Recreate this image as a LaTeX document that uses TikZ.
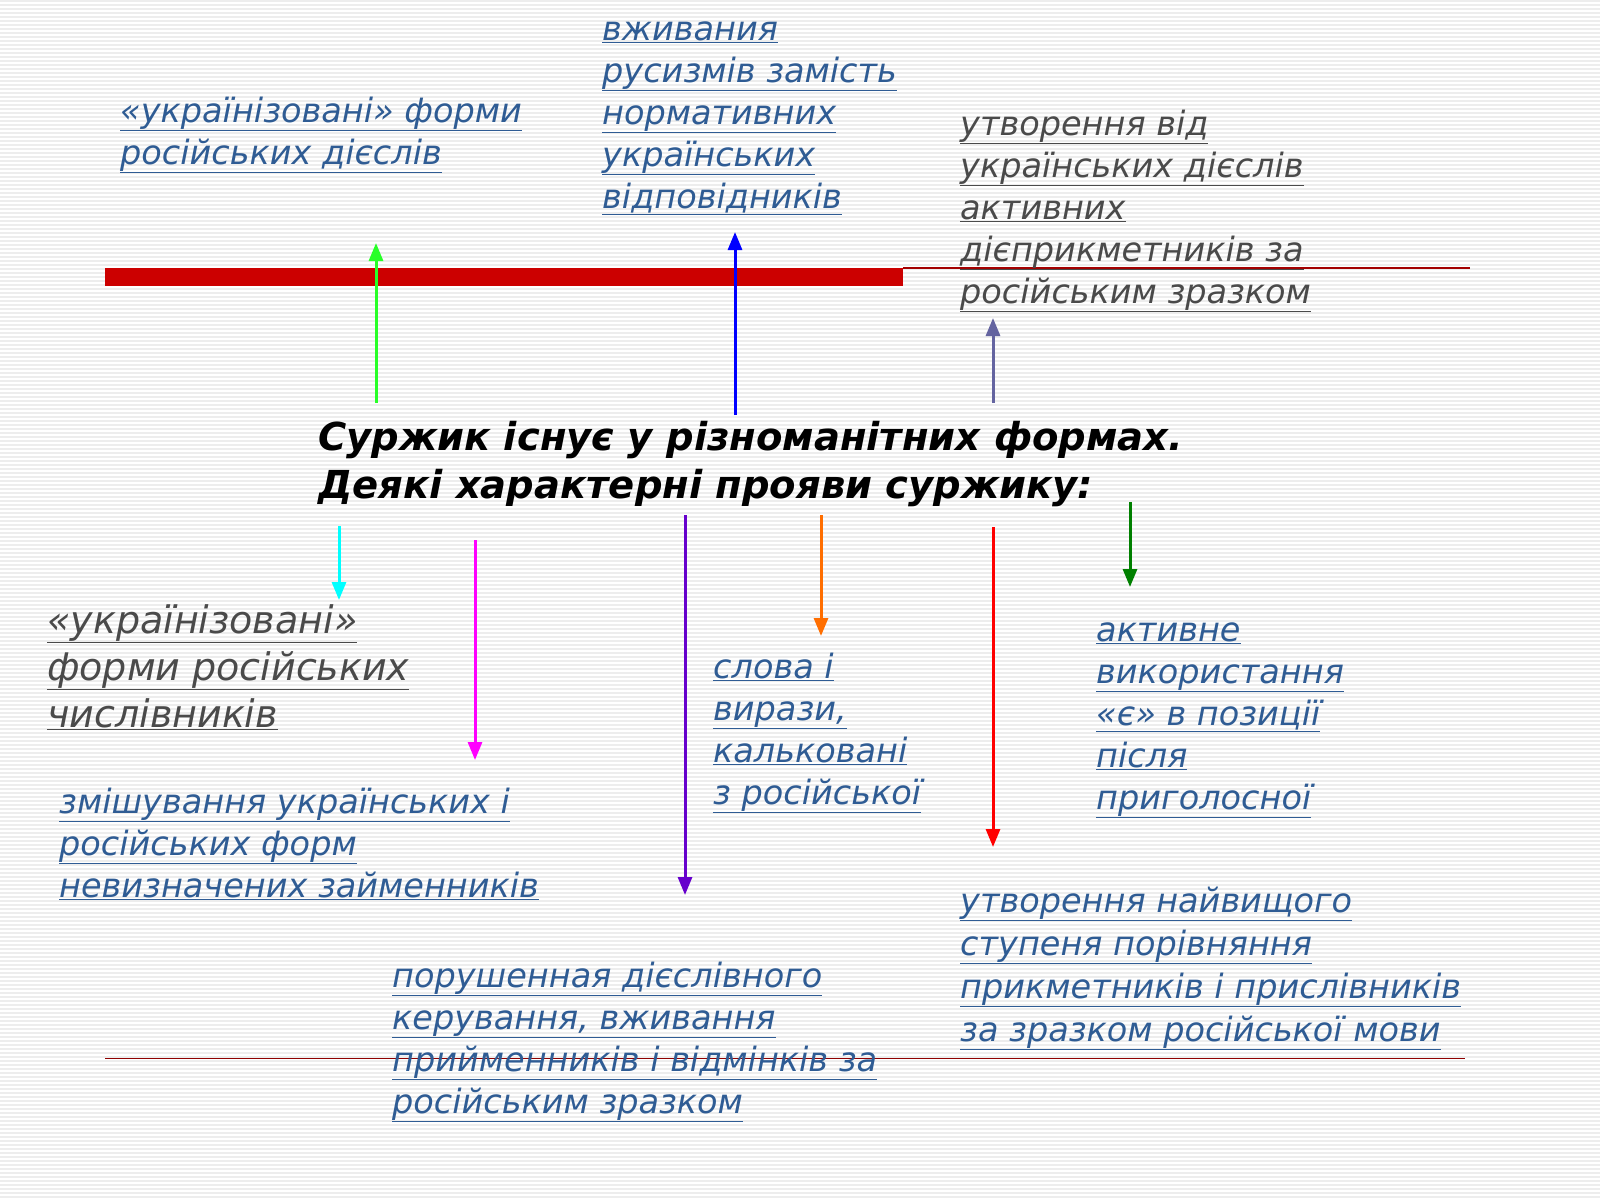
\documentclass[tikz,border=0pt]{standalone}
\usepackage{fontspec}
\setmainfont{DejaVu Sans}
\usetikzlibrary{arrows.meta}
\definecolor{linkblue}{HTML}{2F5C94}
\definecolor{txtgray}{HTML}{4A4A4A}
\definecolor{barred}{HTML}{CC0000}
\tikzset{
  bt/.style={text=linkblue,anchor=base west,inner sep=0pt,font=\fontsize{33.5}{42}\selectfont\itshape},
  gt/.style={text=txtgray,anchor=base west,inner sep=0pt,font=\fontsize{33.5}{42}\selectfont\itshape},
  ttl/.style={anchor=base west,inner sep=0pt,font=\fontsize{38.5}{48}\selectfont\bfseries\itshape},
  arr/.style={line width=3pt,-{Triangle[length=18pt,width=14pt]}}
}
\begin{document}
\begin{tikzpicture}[x=1pt,y=-1pt]
\useasboundingbox (0,0) rectangle (1600,1200);
\fill[white] (0,0) rectangle (1600,1200);
\foreach \k in {0,...,299} \draw[black!7,line width=1.5pt] (0,{4*\k+1}) -- (1600,{4*\k+1});
% lines
\fill[barred] (105,268) rectangle (903,286);
\draw[barred!80!black,line width=1.2pt] (903,268) -- (1470,268);
\draw[barred!70!black,line width=1pt] (105,1058) -- (1465,1058);
% title
\node[ttl] (t1) at (318,450) {Суржик існує у різноманітних формах.};
\node[ttl] (t2) at (318,498) {Деякі характерні прояви суржику:};
% blocks
\foreach \t [count=\i] in {«українізовані» форми,російських дієслів}
  \node[bt] (a\i) at (120,{122+42*(\i-1)}) {\underline{\t}};
\foreach \t [count=\i] in {вживания,русизмів замість,нормативних,українських,відповідників}
  \node[bt] (b\i) at (602,{40+42*(\i-1)}) {\underline{\t}};
\foreach \t [count=\i] in {утворення від,українських дієслів,активних,дієприкметників за,російським зразком}
  \node[gt] (c\i) at (960,{135+42*(\i-1)}) {\underline{\t}};
\foreach \t [count=\i] in {«українізовані»,форми російських,числівників}
  \node[gt,font=\fontsize{38}{47}\selectfont\itshape] (d\i) at (47,{633+47*(\i-1)}) {\underline{\t}};
\foreach \t [count=\i] in {змішування українських і,російських форм,невизначених займенників}
  \node[bt] (e\i) at (59,{813+42*(\i-1)}) {\underline{\t}};
\foreach \t [count=\i] in {слова і,{вирази,},кальковані,з російської}
  \node[bt] (f\i) at (713,{678+42*(\i-1)}) {\underline{\t}};
\foreach \t [count=\i] in {активне,використання,«є» в позиції,після,приголосної}
  \node[bt] (g\i) at (1096,{641+42*(\i-1)}) {\underline{\t}};
\foreach \t [count=\i] in {утворення найвищого,ступеня порівняння,прикметників і прислівників,за зразком російської мови}
  \node[bt] (h\i) at (960,{912+43*(\i-1)}) {\underline{\t}};
\foreach \t [count=\i] in {порушенная дієслівного,{керування, вживання},прийменників і відмінків за,російським зразком}
  \node[bt] (k\i) at (392,{987+42*(\i-1)}) {\underline{\t}};
% arrows
\coordinate (u1s) at (376,403); \coordinate (u1e) at (376,243);
\coordinate (u2s) at (735,415); \coordinate (u2e) at (735,232);
\coordinate (u3s) at (993,403); \coordinate (u3e) at (993,318);
\draw[arr,color={rgb,255:red,40;green,255;blue,40}] (u1s) -- (u1e);
\draw[arr,blue] (u2s) -- (u2e);
\draw[arr,color={rgb,255:red,100;green,100;blue,160}] (u3s) -- (u3e);
\coordinate (d1s) at (339,526); \coordinate (d1e) at (339,600);
\coordinate (d2s) at (475,540); \coordinate (d2e) at (475,760);
\coordinate (d3s) at (685,515); \coordinate (d3e) at (685,895);
\coordinate (d4s) at (821,515); \coordinate (d4e) at (821,636);
\coordinate (d5s) at (993,527); \coordinate (d5e) at (993,847);
\coordinate (d6s) at (1130,502); \coordinate (d6e) at (1130,587);
\draw[arr,color={rgb,255:red,0;green,255;blue,255}] (d1s) -- (d1e);
\draw[arr,color={rgb,255:red,255;green,0;blue,255}] (d2s) -- (d2e);
\draw[arr,color={rgb,255:red,102;green,0;blue,204}] (d3s) -- (d3e);
\draw[arr,color={rgb,255:red,255;green,110;blue,0}] (d4s) -- (d4e);
\draw[arr,red] (d5s) -- (d5e);
\draw[arr,color={rgb,255:red,0;green,128;blue,0}] (d6s) -- (d6e);
\end{tikzpicture}
\end{document}
